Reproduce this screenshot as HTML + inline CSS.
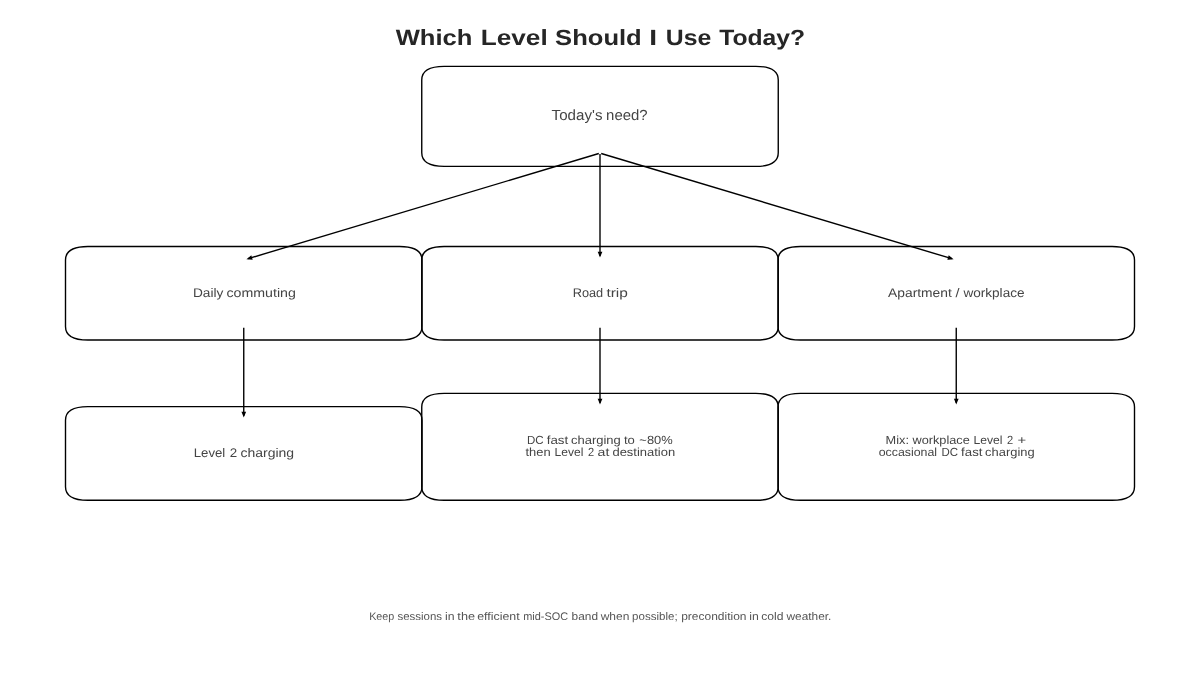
<!DOCTYPE html>
<html><head><meta charset="utf-8"><title>Which Level Should I Use Today?</title>
<style>
html,body{margin:0;padding:0;background:#fff;width:1200px;height:680px;overflow:hidden}
svg{filter:grayscale(1)}
svg{display:block}
text{font-family:"Liberation Sans",sans-serif;text-rendering:geometricPrecision}
.bx{fill:none;stroke:#000;stroke-width:1.39}
.ln{fill:none;stroke:#000;stroke-width:1.39}
.hd{fill:#000;stroke:#000;stroke-width:1.39;stroke-linejoin:miter}
</style></head><body>
<svg width="1200" height="680" viewBox="0 0 1200 680">
<rect width="1200" height="680" fill="#fff"/>
<path d="M444.15,66.35 L755.85,66.35 Q778.25,66.35 778.25,79.95 L778.25,152.80 Q778.25,166.40 755.85,166.40 L444.15,166.40 Q421.75,166.40 421.75,152.80 L421.75,79.95 Q421.75,66.35 444.15,66.35 Z" class="bx"/>
<path d="M87.90,246.50 L399.60,246.50 Q422.00,246.50 422.00,260.10 L422.00,326.40 Q422.00,340.00 399.60,340.00 L87.90,340.00 Q65.50,340.00 65.50,326.40 L65.50,260.10 Q65.50,246.50 87.90,246.50 Z" class="bx"/>
<path d="M444.15,246.50 L755.85,246.50 Q778.25,246.50 778.25,260.10 L778.25,326.40 Q778.25,340.00 755.85,340.00 L444.15,340.00 Q421.75,340.00 421.75,326.40 L421.75,260.10 Q421.75,246.50 444.15,246.50 Z" class="bx"/>
<path d="M800.40,246.50 L1112.10,246.50 Q1134.50,246.50 1134.50,260.10 L1134.50,326.40 Q1134.50,340.00 1112.10,340.00 L800.40,340.00 Q778.00,340.00 778.00,326.40 L778.00,260.10 Q778.00,246.50 800.40,246.50 Z" class="bx"/>
<path d="M87.90,406.65 L399.60,406.65 Q422.00,406.65 422.00,420.25 L422.00,486.70 Q422.00,500.30 399.60,500.30 L87.90,500.30 Q65.50,500.30 65.50,486.70 L65.50,420.25 Q65.50,406.65 87.90,406.65 Z" class="bx"/>
<path d="M444.15,393.40 L755.85,393.40 Q778.25,393.40 778.25,407.00 L778.25,486.70 Q778.25,500.30 755.85,500.30 L444.15,500.30 Q421.75,500.30 421.75,486.70 L421.75,407.00 Q421.75,393.40 444.15,393.40 Z" class="bx"/>
<path d="M800.40,393.40 L1112.10,393.40 Q1134.50,393.40 1134.50,407.00 L1134.50,486.70 Q1134.50,500.30 1112.10,500.30 L800.40,500.30 Q778.00,500.30 778.00,486.70 L778.00,407.00 Q778.00,393.40 800.40,393.40 Z" class="bx"/>
<path d="M598.80,153.50 L248.16,258.67" class="ln"/><path d="M250.93,256.43 L248.16,258.67 L251.71,259.02 Z" class="hd"/>
<path d="M600.00,154.00 L600.00,255.66" class="ln"/><path d="M598.65,252.36 L600.00,255.66 L601.35,252.36 Z" class="hd"/>
<path d="M601.20,153.50 L951.84,258.67" class="ln"/><path d="M948.29,259.02 L951.84,258.67 L949.07,256.43 Z" class="hd"/>
<path d="M243.75,327.80 L243.75,415.66" class="ln"/><path d="M242.40,412.36 L243.75,415.66 L245.10,412.36 Z" class="hd"/>
<path d="M600.00,327.80 L600.00,402.66" class="ln"/><path d="M598.65,399.36 L600.00,402.66 L601.35,399.36 Z" class="hd"/>
<path d="M956.25,327.80 L956.25,402.66" class="ln"/><path d="M954.90,399.36 L956.25,402.66 L957.60,399.36 Z" class="hd"/>
<g font-size="22.0" font-weight="bold" fill="#262626"><text x="395.70" y="45" textLength="76.78" lengthAdjust="spacingAndGlyphs">Which</text><text x="480.79" y="45" textLength="66.88" lengthAdjust="spacingAndGlyphs">Level</text><text x="555.13" y="45" textLength="86.58" lengthAdjust="spacingAndGlyphs">Should</text><text x="649.31" y="45" textLength="7.84" lengthAdjust="spacingAndGlyphs">I</text><text x="665.72" y="45" textLength="45.49" lengthAdjust="spacingAndGlyphs">Use</text><text x="719.18" y="45" textLength="86.00" lengthAdjust="spacingAndGlyphs">Today?</text></g>
<g font-size="14.7" font-weight="normal" fill="#444"><text x="551.61" y="120" textLength="50.86" lengthAdjust="spacingAndGlyphs">Today's</text><text x="606.13" y="120" textLength="41.48" lengthAdjust="spacingAndGlyphs">need?</text></g>
<g font-size="12.5" font-weight="normal" fill="#444"><text x="192.90" y="297" textLength="30.49" lengthAdjust="spacingAndGlyphs">Daily</text><text x="226.44" y="297" textLength="69.38" lengthAdjust="spacingAndGlyphs">commuting</text></g>
<g font-size="12.5" font-weight="normal" fill="#444"><text x="572.73" y="297" textLength="30.48" lengthAdjust="spacingAndGlyphs">Road</text><text x="606.45" y="297" textLength="21.47" lengthAdjust="spacingAndGlyphs">trip</text></g>
<g font-size="12.5" font-weight="normal" fill="#444"><text x="888.10" y="297" textLength="63.65" lengthAdjust="spacingAndGlyphs">Apartment</text><text x="955.60" y="297" textLength="4.01" lengthAdjust="spacingAndGlyphs">/</text><text x="963.40" y="297" textLength="61.14" lengthAdjust="spacingAndGlyphs">workplace</text></g>
<g font-size="12.5" font-weight="normal" fill="#444"><text x="193.75" y="457" textLength="31.52" lengthAdjust="spacingAndGlyphs">Level</text><text x="229.86" y="457" textLength="7.42" lengthAdjust="spacingAndGlyphs">2</text><text x="240.45" y="457" textLength="53.65" lengthAdjust="spacingAndGlyphs">charging</text></g>
<g font-size="11.8" font-weight="normal" fill="#444"><text x="526.92" y="444" textLength="16.64" lengthAdjust="spacingAndGlyphs">DC</text><text x="546.76" y="444" textLength="21.49" lengthAdjust="spacingAndGlyphs">fast</text><text x="570.96" y="444" textLength="49.83" lengthAdjust="spacingAndGlyphs">charging</text><text x="623.96" y="444" textLength="10.88" lengthAdjust="spacingAndGlyphs">to</text><text x="639.38" y="444" textLength="33.39" lengthAdjust="spacingAndGlyphs">~80%</text></g>
<g font-size="11.8" font-weight="normal" fill="#444"><text x="525.46" y="456" textLength="25.17" lengthAdjust="spacingAndGlyphs">then</text><text x="554.53" y="456" textLength="28.88" lengthAdjust="spacingAndGlyphs">Level</text><text x="587.98" y="456" textLength="6.13" lengthAdjust="spacingAndGlyphs">2</text><text x="597.61" y="456" textLength="11.76" lengthAdjust="spacingAndGlyphs">at</text><text x="612.43" y="456" textLength="62.74" lengthAdjust="spacingAndGlyphs">destination</text></g>
<g font-size="11.8" font-weight="normal" fill="#444"><text x="885.62" y="444" textLength="23.38" lengthAdjust="spacingAndGlyphs">Mix:</text><text x="912.49" y="444" textLength="57.24" lengthAdjust="spacingAndGlyphs">workplace</text><text x="973.40" y="444" textLength="29.03" lengthAdjust="spacingAndGlyphs">Level</text><text x="1007.04" y="444" textLength="6.17" lengthAdjust="spacingAndGlyphs">2</text><text x="1017.54" y="444" textLength="8.66" lengthAdjust="spacingAndGlyphs">+</text></g>
<g font-size="11.8" font-weight="normal" fill="#444"><text x="878.68" y="456" textLength="58.46" lengthAdjust="spacingAndGlyphs">occasional</text><text x="941.38" y="456" textLength="16.54" lengthAdjust="spacingAndGlyphs">DC</text><text x="961.08" y="456" textLength="21.36" lengthAdjust="spacingAndGlyphs">fast</text><text x="985.13" y="456" textLength="49.51" lengthAdjust="spacingAndGlyphs">charging</text></g>
<g font-size="11.0" font-weight="normal" fill="#555"><text x="369.14" y="620" textLength="25.13" lengthAdjust="spacingAndGlyphs">Keep</text><text x="397.47" y="620" textLength="44.54" lengthAdjust="spacingAndGlyphs">sessions</text><text x="444.97" y="620" textLength="9.55" lengthAdjust="spacingAndGlyphs">in</text><text x="457.38" y="620" textLength="17.66" lengthAdjust="spacingAndGlyphs">the</text><text x="477.22" y="620" textLength="42.38" lengthAdjust="spacingAndGlyphs">efficient</text><text x="523.20" y="620" textLength="44.93" lengthAdjust="spacingAndGlyphs">mid-SOC</text><text x="571.59" y="620" textLength="26.42" lengthAdjust="spacingAndGlyphs">band</text><text x="600.71" y="620" textLength="28.69" lengthAdjust="spacingAndGlyphs">when</text><text x="632.14" y="620" textLength="45.46" lengthAdjust="spacingAndGlyphs">possible;</text><text x="681.21" y="620" textLength="65.28" lengthAdjust="spacingAndGlyphs">precondition</text><text x="749.22" y="620" textLength="9.55" lengthAdjust="spacingAndGlyphs">in</text><text x="761.22" y="620" textLength="22.30" lengthAdjust="spacingAndGlyphs">cold</text><text x="786.50" y="620" textLength="44.88" lengthAdjust="spacingAndGlyphs">weather.</text></g>
</svg>
</body></html>
